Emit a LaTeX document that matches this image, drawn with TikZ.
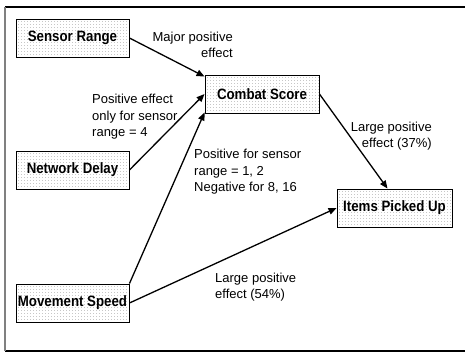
\documentclass[tikz,border=0pt]{standalone}
\usepackage{fontspec}
\setmainfont{Liberation Sans}
\newfontfamily\boxfont{Liberation Sans}[FakeStretch=0.885]
\usetikzlibrary{arrows.meta,shadows,calc}
\tikzset{
  factor/.style={draw=black, line width=0.9pt, minimum height=38pt, inner sep=0pt,
    drop shadow={shadow xshift=1.3pt, shadow yshift=-1.3pt, fill=gray!85, opacity=1},
    fill=white,
    path picture={
      \foreach \dx in {1.5,4.5,...,118}{
        \foreach \dy in {1.5,4.5,...,40}{
          \fill[black!22] ($(path picture bounding box.north west)+(\dx,\dy)$) rectangle +(0.75,0.75);
        }
      }
    },
    font=\boxfont\bfseries\fontsize{15}{17}\selectfont},
  lbl/.style={font=\fontsize{13}{16.5}\selectfont, inner sep=0pt},
  conn/.style={line width=1.3pt, -{Triangle[length=8pt,width=6.5pt]}}
}
\begin{document}
\begin{tikzpicture}[x=1pt,y=-1pt]
\useasboundingbox (0,0) rectangle (465,354);
\draw[line width=1.2pt] (5,7) -- (465,7);
\draw[line width=1.2pt] (5,351) -- (465,351);
\draw[line width=1.5pt, gray] (5,7) -- (5,351);

\node[factor, minimum width=113pt] (sr) at (72.5,38) {Sensor Range};
\node[factor, minimum width=114pt] (cs) at (262,94) {Combat Score};
\node[factor, minimum width=113pt] (nd) at (72.5,170) {Network Delay};
\node[factor, minimum width=113pt] (ms) at (72.5,303) {Movement Speed};
\node[factor, minimum width=115pt] (ip) at (394.5,208) {Items Picked Up};

\draw[conn] (sr.east) -- ($(cs.north west)+(0,2)$);
\draw[conn] (nd.east) -- (cs.west);
\draw[conn] (ms.north east) -- ($(cs.south west)+(0,-1)$);
\draw[conn] (cs.east) -- ($(ip.north)+(-7,0)$);
\draw[conn] (ms.east) -- (ip.west);

\node[lbl, align=right, anchor=east] (l1) at (233,45) {Major positive\\effect};
\node[lbl, align=left, anchor=west] (l2) at (92,117) {Positive effect\\only for sensor\\range = 4};
\node[lbl, align=left, anchor=west] (l3) at (194,172) {Positive for sensor\\range = 1, 2\\Negative for 8, 16};
\node[lbl, align=right, anchor=east] (l4) at (432,136) {Large positive\\effect (37\%)};
\node[lbl, align=left, anchor=west] (l5) at (215,287) {Large positive\\effect (54\%)};
\end{tikzpicture}
\end{document}
